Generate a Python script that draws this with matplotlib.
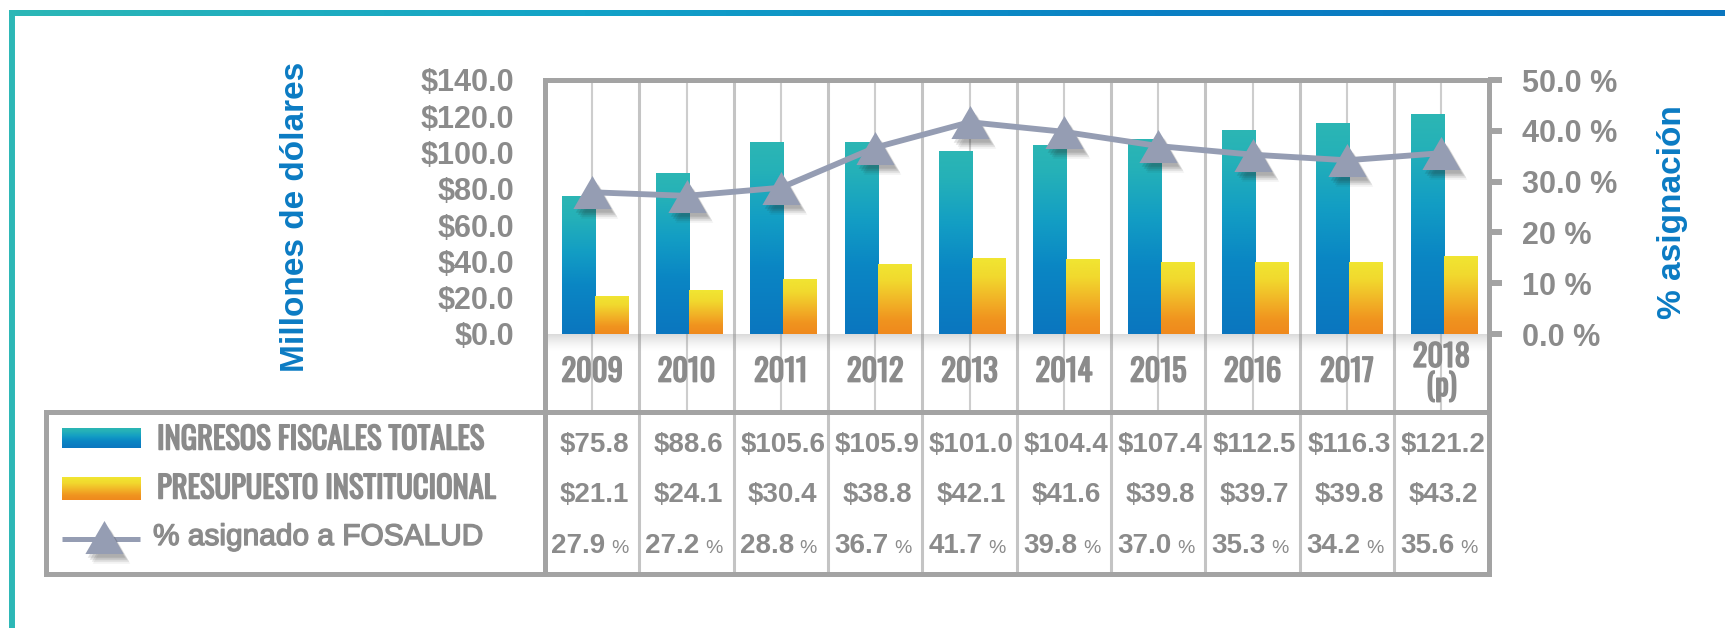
import numpy as np
import matplotlib
matplotlib.use('Agg')
import matplotlib.pyplot as plt
from matplotlib.colors import LinearSegmentedColormap
import matplotlib.transforms as mtransforms
import matplotlib.patheffects as pe
import logging
logging.getLogger('matplotlib.font_manager').setLevel(logging.ERROR)

# ---------------- data ----------------
years = ['2009', '2010', '2011', '2012', '2013', '2014', '2015', '2016', '2017', '2018\n(p)']
ingresos = [75.8, 88.6, 105.6, 105.9, 101.0, 104.4, 107.4, 112.5, 116.3, 121.2]
presupuesto = [21.1, 24.1, 30.4, 38.8, 42.1, 41.6, 39.8, 39.7, 39.8, 43.2]
pct_fosalud = [27.9, 27.2, 28.8, 36.7, 41.7, 39.8, 37.0, 35.3, 34.2, 35.6]
left_ticks = [0, 20, 40, 60, 80, 100, 120, 140]
left_labels = ['$0.0', '$20.0', '$40.0', '$60.0', '$80.0', '$100.0', '$120.0', '$140.0']
right_ticks = [0, 10, 20, 30, 40, 50]
right_labels = ['0.0 %', '10 %', '20 %', '30.0 %', '40.0 %', '50.0 %']
legend_labels = ['INGRESOS FISCALES TOTALES', 'PRESUPUESTO INSTITUCIONAL', '% asignado a FOSALUD']
ylabel_left = 'Millones de dólares'
ylabel_right = '% asignación'

# ---------------- style ----------------
plt.rcParams['text.parse_math'] = False
plt.rcParams['font.family'] = ['Liberation Sans', 'DejaVu Sans']
COND = ['Oswald', 'Roboto Condensed', 'IBM Plex Sans Condensed', 'Liberation Sans', 'DejaVu Sans']

GRAY_TXT = '#8b8b8b'
FRAME = '#a3a3a3'
GRID = '#cdcdcd'
BLUE = '#0b7bc3'
LINEC = '#959db3'
TRI = [(0, 0.865), (-1, -0.865), (1, -0.865)]
BOLDEN = [pe.withStroke(linewidth=1.1, foreground=GRAY_TXT)]
SHADOW = [(2, -4, 0.13), (4, -6, 0.13), (6, -8, 0.10), (7, -10, 0.06)]

teal_cmap = LinearSegmentedColormap.from_list('teal', [
    (0.0, '#0b76bf'), (0.35, '#0a86c4'), (0.6, '#139ec4'), (0.85, '#25b1b8'), (1.0, '#2cb6b4')])
orange_cmap = LinearSegmentedColormap.from_list('orange', [
    (0.0, '#ef891d'), (0.2, '#f0941f'), (0.45, '#f2b327'), (0.75, '#f1d92e'), (1.0, '#f1e632')])

W, H = 1725, 628
fig = plt.figure(figsize=(W / 100, H / 100), dpi=100)
fig.patch.set_facecolor('white')

def fx(px):
    return px / W

def fy(py):
    return 1 - py / H

X0, X1, Y0, Y1 = 545, 1488.5, 334, 80
ax = fig.add_axes([fx(X0), fy(Y0), fx(X1) - fx(X0), fy(Y1) - fy(Y0)])
ax.patch.set_visible(False)
x = np.arange(len(years))

# vertical grid lines (centres and boundaries)
ax.vlines(x, -0.307, 1, transform=ax.get_xaxis_transform(), colors=GRID, lw=1.5, zorder=0.5, clip_on=False)
ax.vlines(x[:-1] + 0.5, -0.945, 1, transform=ax.get_xaxis_transform(), colors='#c4c4c4', lw=2.2, zorder=0.5, clip_on=False)

# soft shadow under the baseline
sh = np.zeros((64, 1, 4))
sh[..., :3] = 0.55
sh[:, 0, 3] = np.linspace(0.0, 0.32, 64) ** 1.5 / (0.32 ** 0.5)
ax.imshow(sh, extent=(0, 1, -0.07, 0), transform=ax.transAxes, origin='lower',
          aspect='auto', zorder=1, clip_on=False, interpolation='bilinear')

def grad_fill(a, patch, cmap, z):
    x0, y0 = patch.get_x(), patch.get_y()
    w, h = patch.get_width(), patch.get_height()
    im = a.imshow(np.linspace(0, 1, 256).reshape(-1, 1), cmap=cmap, origin='lower',
                  extent=[x0, x0 + w, y0, y0 + h], aspect='auto', zorder=z, interpolation='bicubic')
    im.set_clip_path(patch)

bw = 0.35
b1 = ax.bar(x - 0.15, ingresos, bw, facecolor='none', edgecolor='none', zorder=2)
b2 = ax.bar(x + 0.20, presupuesto, bw, facecolor='none', edgecolor='none', zorder=2)
for p in b1:
    grad_fill(ax, p, teal_cmap, 2)
for p in b2:
    grad_fill(ax, p, orange_cmap, 2)

ax.set_xlim(-0.5, len(years) - 0.5)
ax.set_ylim(0, 140)
ax.set_xticks([])
ax.set_yticks(left_ticks, left_labels)
ax.tick_params(axis='y', length=0, pad=22, labelsize=22, labelcolor=GRAY_TXT)
for lbl in ax.get_yticklabels():
    lbl.set_fontweight('bold')
for s in ax.spines.values():
    s.set_visible(False)

for i, yr in enumerate(years):
    ax.text(i, -0.15, yr, transform=ax.get_xaxis_transform(), ha='center', va='center',
            fontsize=22, family=COND, color=GRAY_TXT, linespacing=0.92, path_effects=BOLDEN)

# percentage line on secondary axis
ax2 = ax.twinx()
ax2.set_ylim(0, 50)
for dx, dy, al in SHADOW:
    tr = mtransforms.offset_copy(ax2.transData, fig=fig, x=dx, y=dy, units='dots')
    ax2.plot(x, pct_fosalud, ls='none', marker=TRI, ms=27, mew=0, color='#222222', alpha=al,
             transform=tr, zorder=2.5, clip_on=False)
ax2.plot(x, pct_fosalud, color=LINEC, lw=4.2, marker=TRI, ms=27.5, mew=0, zorder=3, clip_on=False)
ax2.set_yticks(right_ticks, right_labels)
ax2.tick_params(axis='y', length=10, width=4.3, color=FRAME, pad=14, labelsize=22, labelcolor=GRAY_TXT)
for lbl in ax2.get_yticklabels():
    lbl.set_fontweight('bold')
for s in ax2.spines.values():
    s.set_visible(False)

# ---------------- table ----------------
TL = 46
TT, TB = 412, 574
unit = (X1 - X0) / len(years)
tx0 = -0.5 - (X0 - TL) / unit
tax = fig.add_axes([fx(TL), fy(TB), fx(X1) - fx(TL), fy(TT) - fy(TB)])
tax.set_xlim(tx0, len(years) - 0.5)
tax.set_ylim((TB - 442) / 50.5, (TT - 442) / 50.5)
tax.axis('off')
for i in range(len(years)):
    tax.text(i + 0.02, 0.19, f'${ingresos[i]:.1f}', ha='center', va='baseline', fontsize=20,
             weight='bold', color=GRAY_TXT)
    tax.text(i + 0.02, 1.18, f'${presupuesto[i]:.1f}', ha='center', va='baseline', fontsize=20,
             weight='bold', color=GRAY_TXT)
    tax.text(i + 0.14, 2.2, f'{pct_fosalud[i]:.1f}', ha='right', va='baseline', fontsize=20,
             weight='bold', color=GRAY_TXT)
    tax.text(i + 0.20, 2.2, '%', ha='left', va='baseline', fontsize=14, color=GRAY_TXT)

# ---------------- overlay: frame, legend, labels ----------------
ov = fig.add_axes([0, 0, 1, 1])
ov.set_xlim(0, W)
ov.set_ylim(H, 0)
ov.axis('off')
ov.patch.set_visible(False)
ov.set_zorder(5)

# outer decorative border
topgrad = np.linspace(0, 1, 512).reshape(1, -1)
border_cmap = LinearSegmentedColormap.from_list('border', ['#2cb7b6', '#12a3c8', '#0a80c4', '#0a76bf'])
ov.imshow(topgrad, cmap=border_cmap, extent=(9, W, 16, 10), aspect='auto', origin='lower')
ov.plot([12, 12], [10, H], color='#2cb7b6', lw=4.3, solid_capstyle='butt')

fk = dict(color=FRAME, lw=3.6, solid_capstyle='projecting')
ov.plot([X0, X1], [Y1, Y1], **fk)
ov.plot([X0, X0], [Y1, TB], **fk)
ov.plot([X1, X1], [Y1, TB], **fk)
ov.plot([TL, X1], [TT, TT], **fk)
ov.plot([TL, X1], [TB, TB], **fk)
ov.plot([TL, TL], [TT, TB], **fk)

# legend entries
gv = np.linspace(0, 1, 128).reshape(-1, 1)
ov.imshow(gv, cmap=teal_cmap, extent=(62, 141, 448, 428), origin='lower', aspect='auto')
ov.imshow(gv, cmap=orange_cmap, extent=(62, 141, 500, 477), origin='lower', aspect='auto')
ov.set_xlim(0, W)
ov.set_ylim(H, 0)
ov.plot([62, 140], [539, 539], color=LINEC, lw=3.6, solid_capstyle='butt')
for dx, dy, al in SHADOW:
    ov.plot([104 + dx], [537 - dy], marker=TRI, ms=27, mew=0, color='#222222', alpha=al)
ov.plot([104], [537], marker=TRI, ms=27.5, mew=0, color=LINEC)

ov.text(157, 440, legend_labels[0], fontsize=22, family=COND, color=GRAY_TXT, va='center',
        ha='left', path_effects=BOLDEN)
ov.text(157, 489, legend_labels[1], fontsize=22, family=COND, color=GRAY_TXT, va='center',
        ha='left', path_effects=BOLDEN)
ov.text(153, 537, legend_labels[2], fontsize=21.5, color=GRAY_TXT, va='center', ha='left',
        path_effects=[pe.withStroke(linewidth=1.0, foreground=GRAY_TXT)])

ov.text(295, 217, ylabel_left, rotation=90, ha='center', va='center', fontsize=24,
        weight='bold', color=BLUE)
ov.text(1672, 212, ylabel_right, rotation=90, ha='center', va='center', fontsize=24,
        weight='bold', color=BLUE)

fig.savefig('out.png', dpi=100, facecolor='white')
